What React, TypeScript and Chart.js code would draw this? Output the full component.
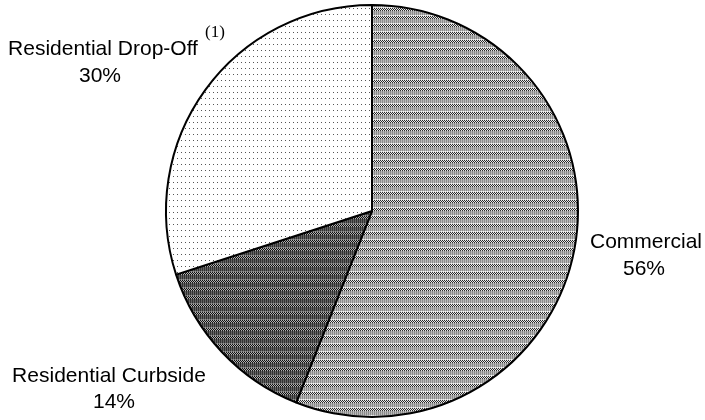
import React, { useEffect, useRef } from "react";
import { Chart, registerables } from "chart.js";

Chart.register(...registerables);

const categories = ["Commercial", "Residential Curbside", "Residential Drop-Off"];
const shares = [56, 14, 30];
const percentLabels = ["56%", "14%", "30%"];

// label layout (line centers / baselines), text only
const labelLayout = [
  { x: 646, y: 248, pctX: 644, pctY: 275 },
  { x: 109, y: 382, pctX: 114, pctY: 408 },
  { x: 103, y: 55, pctX: 100, pctY: 82 },
];

function makeTile(w: number, h: number, draw: (set: (x: number, y: number, c: string) => void) => void) {
  const c = document.createElement("canvas");
  c.width = w;
  c.height = h;
  const ctx = c.getContext("2d")!;
  const set = (x: number, y: number, col: string) => {
    ctx.fillStyle = col;
    ctx.fillRect(x, y, 1, 1);
  };
  draw(set);
  return c;
}

function commercialPattern(ctx: CanvasRenderingContext2D) {
  const tile = makeTile(8, 8, (set) => {
    for (let y = 0; y < 8; y++) {
      for (let x = 0; x < 8; x++) {
        let col: string;
        if (y < 3) col = (x + y) % 2 === 0 ? "#2a2a2a" : "#e8e8e8";
        else if (y === 7) col = x % 2 === 0 ? "#cfcfcf" : "#f4f4f4";
        else col = x % 2 === 0 ? "#8c8c8c" : "#b8b8b8";
        set(x, y, col);
      }
    }
  });
  return ctx.createPattern(tile, "repeat")!;
}

function curbsidePattern(ctx: CanvasRenderingContext2D) {
  const tile = makeTile(8, 8, (set) => {
    for (let y = 0; y < 8; y++) {
      for (let x = 0; x < 8; x++) {
        let col: string;
        if (y < 3) col = (x + y) % 2 === 0 ? "#101010" : "#b0b0b0";
        else if (y === 7) col = x % 2 === 0 ? "#6a6a6a" : "#959595";
        else col = x % 2 === 0 ? "#333333" : "#626262";
        set(x, y, col);
      }
    }
  });
  return ctx.createPattern(tile, "repeat")!;
}

function dropOffPattern(ctx: CanvasRenderingContext2D) {
  const tile = makeTile(4, 6, (set) => {
    for (let y = 0; y < 6; y++) for (let x = 0; x < 4; x++) set(x, y, "#ffffff");
    set(1, 2, "#555555");
  });
  return ctx.createPattern(tile, "repeat")!;
}

const labelPlugin = {
  id: "pieLabels",
  afterDraw(chart: any) {
    const ctx: CanvasRenderingContext2D = chart.ctx;
    ctx.save();
    ctx.fillStyle = "#000000";
    ctx.textAlign = "center";
    ctx.textBaseline = "alphabetic";
    ctx.font = "21px 'Liberation Sans', Arial, sans-serif";
    categories.forEach((name, i) => {
      const l = labelLayout[i];
      ctx.fillText(name, l.x, l.y);
      ctx.fillText(percentLabels[i], l.pctX, l.pctY);
    });
    // footnote marker on Drop-Off label
    ctx.font = "17px 'Liberation Serif', 'Times New Roman', serif";
    ctx.fillText("(1)", 215, 37);
    ctx.restore();
  },
};

export default function App() {
  const ref = useRef<HTMLCanvasElement | null>(null);

  useEffect(() => {
    document.body.style.margin = "0";
    const canvas = ref.current!;
    const ctx = canvas.getContext("2d")!;
    const chart = new Chart(canvas, {
      type: "pie",
      data: {
        labels: categories,
        datasets: [
          {
            data: shares,
            backgroundColor: [commercialPattern(ctx), curbsidePattern(ctx), dropOffPattern(ctx)],
            borderColor: "#000000",
            borderWidth: 2,
          },
        ],
      },
      options: {
        responsive: false,
        animation: false,
        layout: { padding: { top: 4, bottom: 2, left: 39, right: 0 } },
        plugins: {
          legend: { display: false },
          tooltip: { enabled: false },
        },
      },
      plugins: [labelPlugin],
    });
    return () => chart.destroy();
  }, []);

  return <canvas ref={ref} width={705} height={420} style={{ display: "block" }} />;
}
